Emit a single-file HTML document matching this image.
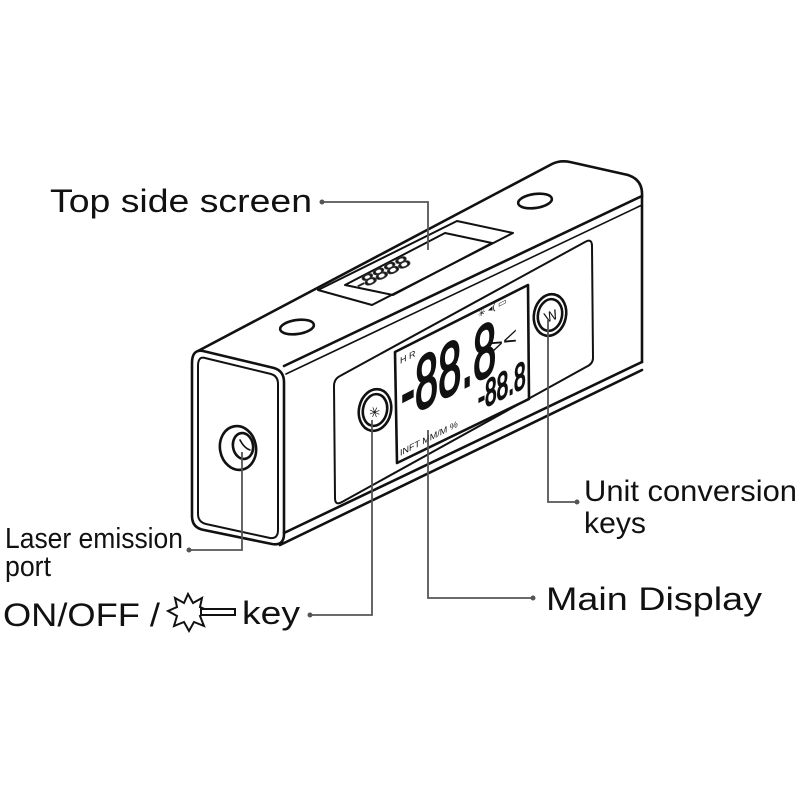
<!DOCTYPE html>
<html><head><meta charset="utf-8"><style>
html,body{margin:0;padding:0;background:#fff;}
svg{display:block;}
text{font-family:"Liberation Sans",sans-serif;fill:#111;}
</style></head><body>
<svg width="800" height="800" viewBox="0 0 800 800" xmlns="http://www.w3.org/2000/svg">
<g fill="none" stroke="#111" stroke-width="2.6" stroke-linejoin="round" stroke-linecap="round">
  <path d="M198,351 L552,164 Q560,160 570,162 L628,175 Q643,180 642,196"/>
  <path d="M284,366 L642,196"/>
  <path d="M286,374 L642,205" stroke-width="1.6"/>
  <path d="M642,196 L642,362"/>
  <path d="M284,533 L642,362"/>
  <path d="M280,545 L642,370"/>
  <path d="M203,351 L274,368 Q284,371 284,382 L284,534 Q284,546 272,544 L204,530 Q192,528 192,516 L192,363 Q192,349 203,351 Z"/>
  <path d="M205,358 L271,374 Q278,376 278,384 L278,530 Q278,539 270,538 L206,524 Q198,522 198,514 L198,366 Q198,356 205,358 Z" stroke-width="2"/>
  <ellipse cx="238" cy="448" rx="18" ry="22" transform="rotate(-10 238 448)"/>
  <ellipse cx="243" cy="446" rx="10" ry="13" transform="rotate(-10 243 446)"/>
  <path d="M240,440 Q244,448 250,450" stroke-width="1.6"/>
  <ellipse cx="297" cy="327" rx="17" ry="7" transform="rotate(-8 297 327)"/>
  <ellipse cx="535" cy="201" rx="17" ry="7" transform="rotate(-8 535 201)"/>
  <path d="M318,290 L457,221 L513,233 L372,305 Z" stroke-width="2"/>
  <path d="M345,285 L445,233 L492,243 L393,295 Z" stroke-width="2"/>
  <path d="M340,376 L585,242 Q592,238 592,246 L593,358 Q593,364 586,367 L342,502 Q335,506 335,498 L334,386 Q334,379 340,376 Z" stroke-width="2"/>
  <path d="M395,352 L528,285 L529,399 L397,463 Z" stroke-width="2.6"/>
  <ellipse cx="375" cy="410" rx="16" ry="21" transform="rotate(12 375 410)"/>
  <ellipse cx="375" cy="410" rx="12" ry="16" transform="rotate(12 375 410)"/>
  <ellipse cx="550" cy="315" rx="16" ry="21" transform="rotate(12 550 315)"/>
  <ellipse cx="550" cy="315" rx="12" ry="16" transform="rotate(12 550 315)"/>
</g>
<text x="368" y="417" font-size="14" transform="rotate(-20 375 410)">✳</text>
<text x="544" y="321" font-size="14" transform="rotate(-20 550 315)">W</text>

<text font-size="9" transform="translate(400,364) skewY(-27)">H R</text>
<text font-size="76" fill="#fff" stroke="#111" stroke-width="2.2" transform="translate(401,420) skewY(-27) scale(0.55,1)">-88.8</text>
<text font-size="38" fill="#fff" stroke="#111" stroke-width="1.8" transform="translate(478,411) skewY(-27) scale(0.55,1)">-88.8</text>
<text font-size="24" transform="translate(489,357) skewY(-27)">&gt;&lt;</text>
<text font-size="9" transform="translate(478,318) skewY(-27)">✳ ◂( ▭</text>
<text font-size="9" transform="translate(400,456) skewY(-27)">INFT  MM/M  %</text>

<g transform="translate(360,290) matrix(1,-0.5,0.45,0.6,0,0)">
  <text x="0" y="0" font-size="22" letter-spacing="-1" fill="#fff" stroke="#333" stroke-width="1">-8888</text>
</g>

<g fill="none" stroke="#555" stroke-width="1.8">
  <path d="M322,202 L428,202 L428,250"/>
  <path d="M242,452 L242,550 L189,550"/>
  <path d="M310,615 L372,615 L372,420"/>
  <path d="M428,430 L428,598 L533,598"/>
  <path d="M548,320 L548,502 L577,502"/>
</g>
<g fill="#555">
  <circle cx="322" cy="202" r="2.5"/><circle cx="189" cy="550" r="2.5"/>
  <circle cx="310" cy="615" r="2.5"/><circle cx="533" cy="598" r="2.5"/>
  <circle cx="577" cy="502" r="2.5"/>
</g>

<text x="50" y="212" font-size="32" textLength="262" lengthAdjust="spacingAndGlyphs">Top side screen</text>
<text x="584" y="501" font-size="30" textLength="213" lengthAdjust="spacingAndGlyphs">Unit conversion</text>
<text x="584" y="533" font-size="30" textLength="62" lengthAdjust="spacingAndGlyphs">keys</text>
<text x="5" y="548" font-size="29" textLength="178" lengthAdjust="spacingAndGlyphs">Laser emission</text>
<text x="5" y="576" font-size="29" textLength="46" lengthAdjust="spacingAndGlyphs">port</text>
<text x="3" y="626" font-size="32" textLength="157" lengthAdjust="spacingAndGlyphs">ON/OFF /</text>
<text x="242" y="624" font-size="32" textLength="58" lengthAdjust="spacingAndGlyphs">key</text>
<text x="546" y="610" font-size="32" textLength="216" lengthAdjust="spacingAndGlyphs">Main Display</text>

<polygon fill="#fff" stroke="#111" stroke-width="2" points="188,594 193,603 202,598 200,607 209,611 200,616 204,626 194,622 189,631 184,622 174,626 177,616 168,611 177,607 175,598 184,603"/>
<rect x="201" y="609" width="34" height="6" fill="#fff" stroke="#111" stroke-width="2"/>
</svg>
</body></html>
